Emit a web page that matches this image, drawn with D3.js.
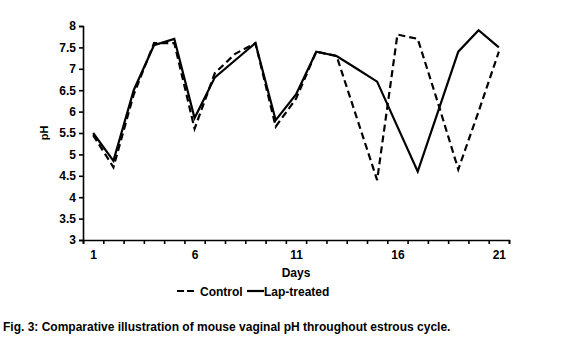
<!DOCTYPE html>
<html>
<head>
<meta charset="utf-8">
<script src="https://cdn.jsdelivr.net/npm/d3@7"></script>
<style>
  html, body { margin: 0; padding: 0; background: #fff; }
  svg { display: block; font-family: "Liberation Sans", Arial, sans-serif; }
  .axis path, .axis line { stroke: #000; stroke-width: 1.6; }
  .axis text { font-size: 12px; font-weight: bold; fill: #000; }
</style>
</head>
<body>
<svg id="chart" width="564" height="350"></svg>
<script>
// Vaginal pH per day of the estrous cycle
const days = d3.range(1, 22);
const controlPH = [5.45, 4.7, 6.4, 7.6, 7.6, 5.6, 6.9, 7.35, 7.6, 5.65, 6.3, 7.4, 7.3, 5.85, 4.4, 7.8, 7.7, 6.2, 4.65, 6.0, 7.4];
const lapPH     = [5.5, 4.85, 6.5, 7.55, 7.7, 5.85, 6.8, 7.2, 7.6, 5.8, 6.4, 7.4, 7.3, 7.0, 6.7, 5.65, 4.6, 6.0, 7.4, 7.9, 7.5];
const yTicks = [3, 3.5, 4, 4.5, 5, 5.5, 6, 6.5, 7, 7.5, 8];
const xLabelTicks = [1, 6, 11, 16, 21];
const seriesNames = ["Control", "Lap-treated"];
const caption = "Fig. 3: Comparative illustration of mouse vaginal pH throughout estrous cycle.";

const svg = d3.select("#chart");

const x = d3.scaleLinear().domain([0.5, 21.5]).range([83, 509]);
const y = d3.scaleLinear().domain([3, 8]).range([240, 26]);

// y axis
svg.append("g")
  .attr("class", "axis")
  .attr("transform", `translate(${x(0.5)},0)`)
  .call(d3.axisLeft(y).tickValues(yTicks).tickSize(4).tickPadding(3)
    .tickFormat(d => String(d)));

// x axis: tick marks between days, labels every fifth day
const boundaries = d3.range(0.5, 22, 1);
svg.append("g")
  .attr("class", "axis")
  .attr("transform", `translate(0,${y(3)})`)
  .call(d3.axisBottom(x).tickValues(boundaries).tickSize(4).tickSizeOuter(4).tickFormat(""));
svg.append("g")
  .attr("class", "axis")
  .attr("transform", `translate(0,${y(3)})`)
  .call(d3.axisBottom(x).tickValues(xLabelTicks).tickSize(0).tickPadding(10).tickFormat(d3.format("d")))
  .call(g => g.select(".domain").remove());

// axis titles
svg.append("text")
  .attr("transform", `translate(48,${y(5.5)}) rotate(-90)`)
  .attr("text-anchor", "middle")
  .style("font-size", "11px")
  .style("font-weight", "bold")
  .text("pH");

svg.append("text")
  .attr("x", x(11))
  .attr("y", 277)
  .attr("text-anchor", "middle")
  .style("font-size", "12px")
  .style("font-weight", "bold")
  .text("Days");

// lines
const line = d3.line().x((d, i) => x(days[i])).y(d => y(d));

svg.append("path")
  .datum(controlPH)
  .attr("fill", "none")
  .attr("stroke", "#000")
  .attr("stroke-width", 2.2)
  .attr("stroke-dasharray", "7,4")
  .attr("d", line);

svg.append("path")
  .datum(lapPH)
  .attr("fill", "none")
  .attr("stroke", "#000")
  .attr("stroke-width", 2.2)
  .attr("d", line);

// legend
const legend = svg.append("g").attr("transform", "translate(0,291)");
const legendItems = [
  { name: seriesNames[0], x0: 177, dash: "7,3" },
  { name: seriesNames[1], x0: 247, dash: null }
];
legendItems.forEach(item => {
  legend.append("line")
    .attr("x1", item.x0).attr("x2", item.x0 + 17)
    .attr("y1", 0).attr("y2", 0)
    .attr("stroke", "#000").attr("stroke-width", 2.2)
    .attr("stroke-dasharray", item.dash);
  legend.append("text")
    .attr("x", item.x0 + (item.dash ? 23 : 17))
    .attr("y", 4.5)
    .style("font-size", "12px")
    .style("font-weight", "bold")
    .text(item.name);
});

// caption
svg.append("text")
  .attr("x", 3)
  .attr("y", 331)
  .style("font-size", "12px")
  .style("font-weight", "bold")
  .text(caption);
</script>
</body>
</html>
